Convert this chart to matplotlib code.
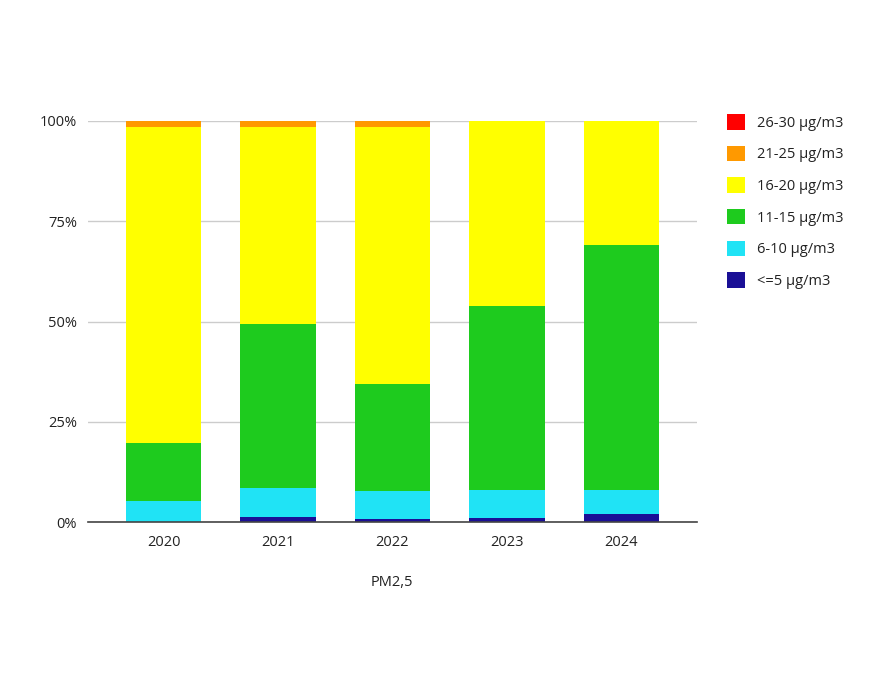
import matplotlib
matplotlib.use("Agg")
import matplotlib.pyplot as plt
from matplotlib.patches import Patch
import numpy as np

plt.rcParams['font.family'] = ['Open Sans', 'DejaVu Sans']

years = ['2020', '2021', '2022', '2023', '2024']
labels = ['<=5 µg/m3', '6-10 µg/m3', '11-15 µg/m3', '16-20 µg/m3', '21-25 µg/m3', '26-30 µg/m3']
colors = ['#1a0f96', '#20e3f5', '#1ecb1e', '#ffff00', '#ff9900', '#ff0000']

le5 = [0.0, 1.3, 0.7, 1.0, 2.0]
r6_10 = [5.2, 7.1, 7.0, 7.1, 6.1]
r11_15 = [14.6, 41.0, 26.8, 45.8, 60.9]
r16_20 = [78.6, 49.0, 63.9, 46.1, 31.0]
r21_25 = [1.6, 1.6, 1.6, 0.0, 0.0]
r26_30 = [0.0, 0.0, 0.0, 0.0, 0.0]
series = [le5, r6_10, r11_15, r16_20, r21_25, r26_30]

fig = plt.figure(figsize=(8.82, 6.82), dpi=100)
ax = fig.add_axes([88/882, 1-522/682, (697-88)/882, (522-121)/682])

x = np.arange(len(years))
bottom = np.zeros(len(years))
for vals, c, lab in zip(series, colors, labels):
    ax.bar(x, vals, bottom=bottom, width=0.66, color=c, label=lab, zorder=3, linewidth=0)
    bottom += np.array(vals)

ax.set_xlim(-0.66, 4.66)
ax.set_ylim(0, 100)
ax.set_yticks([0, 25, 50, 75, 100])
ax.set_yticklabels(['0%', '25%', '50%', '75%', '100%'])
ax.set_xticks(x)
ax.set_xticklabels(years)
ax.tick_params(axis='both', length=0, labelsize=10.5, colors='#222222')
ax.tick_params(axis='y', pad=8)
ax.tick_params(axis='x', pad=9)
ax.grid(axis='y', color='#cccccc', linewidth=1, zorder=0)
for s in ['top', 'right', 'left']:
    ax.spines[s].set_visible(False)
ax.spines['bottom'].set_color('#444444')
ax.spines['bottom'].set_linewidth(1.2)
ax.spines['bottom'].set_zorder(4)

fig.text(392/882, 1-583/682, 'PM2,5', ha='center', va='center', fontsize=10.5, color='#222222')

handles = [Patch(facecolor=c, edgecolor='none', label=l) for c, l in zip(colors, labels)]
handles = handles[::-1]
fig.legend(handles=handles, loc='upper left', bbox_to_anchor=(714/882, 1-101/682),
           frameon=False, fontsize=10.5, handlelength=1.25, handleheight=1.25,
           labelspacing=1.03, handletextpad=0.8, labelcolor='#222222')

fig.savefig('out.png', dpi=100)
